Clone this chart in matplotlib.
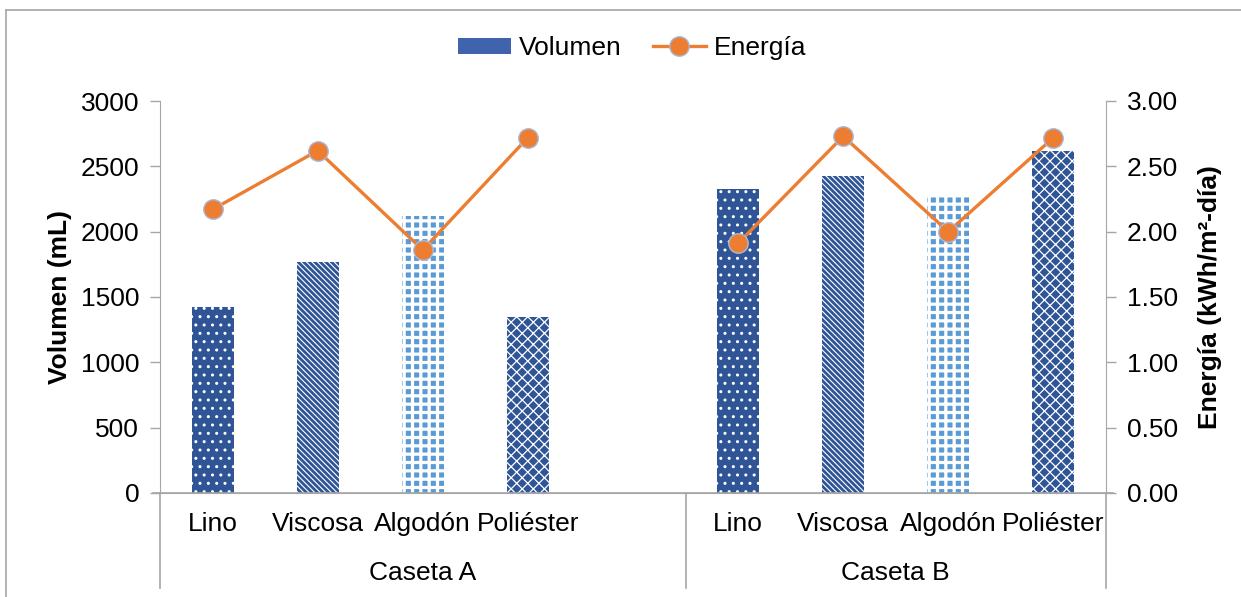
import matplotlib

matplotlib.use("Agg")
import matplotlib.pyplot as plt
import numpy as np
from matplotlib.lines import Line2D
from matplotlib.patches import Patch

plt.rcParams["font.family"] = ["Liberation Sans", "DejaVu Sans"]

# data
groups = ["Caseta A", "Caseta B"]
materials = ["Lino", "Viscosa", "Algodón", "Poliéster"]
volumen_a = [1423, 1767, 2119, 1347]
volumen_b = [2326, 2425, 2265, 2617]
energia_a = [2.17, 2.62, 1.86, 2.72]
energia_b = [1.91, 2.73, 2.00, 2.72]

# Caseta A has a blank fifth slot, as in the original spreadsheet
pos_a = np.arange(4)
pos_b = np.arange(5, 9)

dark_blue = "#2F5597"
light_blue = "#5B9BD5"
orange = "#ED7D31"
gray = "#A6A6A6"

styles = [
    (dark_blue, "..", 1.0),
    (dark_blue, "\\\\\\\\\\\\", 0.8),
    (light_blue, "++", 2.3),
    (dark_blue, "xxx", 0.9),
]

fig = plt.figure(figsize=(12.41, 5.97), dpi=100)
ax = fig.add_axes([160 / 1241, 104 / 597, 946 / 1241, 392 / 597])
ax2 = ax.twinx()

for i, (color, hatch, hlw) in enumerate(styles):
    with plt.rc_context({"hatch.linewidth": hlw, "hatch.color": "white"}):
        ax.bar([pos_a[i], pos_b[i]], [volumen_a[i], volumen_b[i]], width=0.4,
               color=color, edgecolor="white", linewidth=0, hatch=hatch, zorder=2)

line_kw = dict(color=orange, lw=2.4, marker="o", markersize=14,
               markerfacecolor=orange, markeredgecolor="#A9B8D8", markeredgewidth=1.0)
ax2.plot(pos_a, energia_a, **line_kw)
ax2.plot(pos_b, energia_b, **line_kw)

ax.set_xlim(-0.5, 8.5)
ax.set_ylim(0, 3000)
ax.set_yticks(np.arange(0, 3001, 500))
ax2.set_ylim(0, 3.0)
ax2.set_yticks(np.arange(0, 3.01, 0.5))
ax2.set_yticklabels([f"{v:.2f}" for v in np.arange(0, 3.01, 0.5)])

for a in (ax, ax2):
    a.spines["top"].set_visible(False)
    a.spines["left"].set_color(gray)
    a.spines["right"].set_color(gray)
    a.spines["bottom"].set_color(gray)
    a.tick_params(axis="y", colors=gray, labelcolor="black", labelsize=19,
                  length=7, width=1, pad=8)
ax.spines["right"].set_visible(False)
ax2.spines["left"].set_visible(False)
ax2.spines["bottom"].set_visible(False)
ax.set_xticks([])

ax.set_ylabel("Volumen (mL)", fontsize=19, fontweight="bold", labelpad=6)
ax2.set_ylabel("Energía (kWh/m²-día)", fontsize=19, fontweight="bold", labelpad=14)

# two-level category axis
trans = ax.get_xaxis_transform()
for p, m in zip(list(pos_a) + list(pos_b), materials + materials):
    ax.text(p, -0.08, m, transform=trans, ha="center", va="center", fontsize=19)
ax.text(2.0, -0.205, groups[0], transform=trans, ha="center", va="center", fontsize=19)
ax.text(6.5, -0.205, groups[1], transform=trans, ha="center", va="center", fontsize=19)
for xs in (-0.5, 4.5, 8.5):
    ax.plot([xs, xs], [0, -0.243], transform=trans, color=gray, lw=1.2,
            clip_on=False)
ax.plot([-0.57, 8.57], [0, 0], transform=trans, color=gray, lw=1.2, clip_on=False)

handles = [
    Patch(facecolor="#3F64AD", edgecolor="none"),
    Line2D([], [], **line_kw),
]
fig.legend(handles, ["Volumen", "Energía"], loc="center", bbox_to_anchor=(632 / 1241, 1 - 48 / 597),
           ncol=2, frameon=False, fontsize=19, handlelength=2.0, handleheight=0.55,
           columnspacing=1.2, handletextpad=0.3)

# outer chart border
fig.add_artist(Line2D([6 / 1241, 1.0], [1 - 10 / 597, 1 - 10 / 597], transform=fig.transFigure,
                      color=gray, lw=1.2))
fig.add_artist(Line2D([6 / 1241, 6 / 1241], [0, 1 - 10 / 597], transform=fig.transFigure,
                      color=gray, lw=1.2))

fig.savefig("out.png", dpi=100)
